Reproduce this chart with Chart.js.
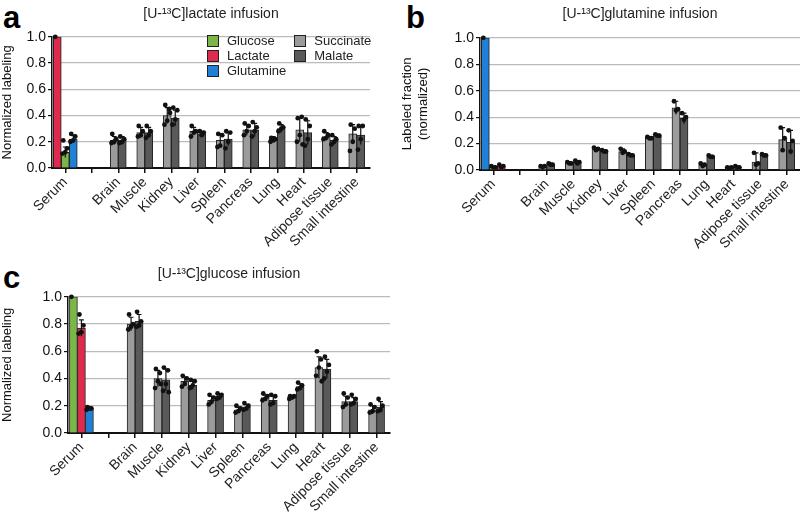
<!DOCTYPE html>
<html>
<head>
<meta charset="utf-8">
<script src="https://cdn.jsdelivr.net/npm/chart.js@4.4.1/dist/chart.umd.min.js"></script>
<style>
  body { margin: 0; background: #fff; width: 800px; height: 520px; position: relative; overflow: hidden;
         font-family: "Liberation Sans", Arial, sans-serif; }
  canvas { position: absolute; }
  .tag { position: absolute; font-weight: bold; font-size: 31px; line-height: 1; color: #000; }
  #legend { position: absolute; left: 207px; top: 33px; font-size: 13px; color: #222; z-index: 2;
            display: grid; grid-auto-flow: column; grid-template-rows: repeat(3, 15px); column-gap: 8px; }
  #legend div { display: flex; align-items: center; white-space: nowrap; }
  #legend span { display: inline-block; width: 10px; height: 10px; border: 1px solid #222; margin-right: 8px; }
</style>
</head>
<body>
<div class="tag" style="left:3px;top:2px">a</div>
<div class="tag" style="left:406px;top:2px">b</div>
<div class="tag" style="left:3px;top:262px">c</div>
<canvas id="chartA" width="385" height="260" style="left:0;top:0"></canvas>
<canvas id="chartB" width="400" height="260" style="left:400px;top:0"></canvas>
<canvas id="chartC" width="400" height="260" style="left:0;top:260px"></canvas>
<div id="legend"></div>
<script>
// categories (the empty one is the spacer tick between serum and tissues)
var tissues = ['Serum', '', 'Brain', 'Muscle', 'Kidney', 'Liver', 'Spleen', 'Pancreas', 'Lung', 'Heart', 'Adipose tissue', 'Small intestine'];
var serumNames = ['Glucose', 'Lactate', 'Glutamine'];
var serumColors = ['#7ab648', '#df2a4e', '#1f80d6'];
var tissueNames = ['Succinate', 'Malate'];
var tissueColors = ['#9b9b9b', '#595959'];
var yTicks = [0, 0.2, 0.4, 0.6, 0.8, 1.0];

// a: [U-13C]lactate infusion  (serum: glucose, lactate, glutamine)
var aSerumMean = [0.12, 1.0, 0.22];
var aSerumSd = [0.04, 0, 0.03];
var aSerumPts = [[0.21, 0.15, 0.12, 0.11], [1.0], [0.26, 0.24, 0.21, 0.20]];
var aSuccMean = [0.21, 0.27, 0.40, 0.28, 0.21, 0.29, 0.22, 0.29, 0.24, 0.26];
var aSuccSd = [0.03, 0.04, 0.06, 0.03, 0.05, 0.04, 0.02, 0.09, 0.03, 0.07];
var aSuccPts = [[0.26, 0.22, 0.20, 0.19], [0.32, 0.28, 0.25, 0.24], [0.48, 0.45, 0.36, 0.33, 0.42], [0.32, 0.28, 0.27, 0.24],
  [0.26, 0.25, 0.17, 0.16], [0.34, 0.32, 0.28, 0.25], [0.23, 0.22, 0.21, 0.20], [0.38, 0.39, 0.25, 0.20, 0.18],
  [0.28, 0.25, 0.23, 0.22], [0.33, 0.30, 0.20, 0.13]];
var aMalMean = [0.21, 0.27, 0.38, 0.26, 0.22, 0.29, 0.30, 0.27, 0.21, 0.25];
var aMalSd = [0.03, 0.04, 0.06, 0.02, 0.05, 0.05, 0.03, 0.09, 0.03, 0.07];
var aMalPts = [[0.24, 0.22, 0.20, 0.19], [0.32, 0.28, 0.25, 0.23], [0.46, 0.44, 0.37, 0.33], [0.28, 0.27, 0.25],
  [0.28, 0.27, 0.20, 0.15], [0.35, 0.31, 0.28, 0.24], [0.34, 0.31, 0.30, 0.28], [0.37, 0.32, 0.22, 0.17],
  [0.25, 0.22, 0.20, 0.18], [0.32, 0.32, 0.22, 0.14]];

// b: [U-13C]glutamine infusion
var bSerumMean = [0.02, 0.03, 1.0];
var bSerumSd = [0.005, 0.005, 0];
var bSerumPts = [[0.03, 0.02, 0.02], [0.04, 0.03, 0.02], [1.0]];
var bSuccMean = [0.03, 0.05, 0.16, 0.14, 0.245, 0.47, 0.04, 0.02, 0.06, 0.23];
var bSuccSd = [0.005, 0.01, 0.01, 0.02, 0.005, 0.05, 0.01, 0.005, 0.07, 0.09];
var bSuccPts = [[0.03, 0.03, 0.02], [0.06, 0.05, 0.05], [0.17, 0.16, 0.15], [0.16, 0.14, 0.13], [0.25, 0.24, 0.24],
  [0.52, 0.46, 0.45], [0.05, 0.04, 0.03], [0.02, 0.02, 0.01], [0.13, 0.05, 0.04], [0.32, 0.24, 0.15]];
var bMalMean = [0.04, 0.06, 0.14, 0.11, 0.26, 0.39, 0.10, 0.02, 0.11, 0.21];
var bMalSd = [0.01, 0.01, 0.01, 0.01, 0.01, 0.04, 0.01, 0.005, 0.01, 0.09];
var bMalPts = [[0.05, 0.04, 0.04], [0.07, 0.06, 0.05], [0.15, 0.14, 0.14], [0.12, 0.11, 0.11], [0.27, 0.26, 0.26],
  [0.43, 0.40, 0.38], [0.11, 0.10, 0.10], [0.03, 0.02, 0.02], [0.12, 0.11, 0.11], [0.30, 0.22, 0.14]];

// c: [U-13C]glucose infusion
var cSerumMean = [1.0, 0.77, 0.18];
var cSerumSd = [0, 0.06, 0.01];
var cSerumPts = [[1.0], [0.87, 0.79, 0.74, 0.73], [0.19, 0.18, 0.18, 0.17]];
var cSuccMean = [0.80, 0.40, 0.38, 0.24, 0.17, 0.26, 0.26, 0.48, 0.23, 0.17];
var cSuccSd = [0.05, 0.06, 0.03, 0.03, 0.02, 0.02, 0.01, 0.08, 0.04, 0.03];
var cSuccPts = [[0.87, 0.80, 0.78, 0.76], [0.47, 0.44, 0.38, 0.33, 0.36], [0.42, 0.40, 0.36, 0.34], [0.28, 0.26, 0.23, 0.21],
  [0.20, 0.18, 0.16, 0.15], [0.29, 0.27, 0.25, 0.24], [0.27, 0.27, 0.26, 0.25], [0.60, 0.54, 0.48, 0.42, 0.38],
  [0.29, 0.26, 0.21, 0.19], [0.21, 0.19, 0.16, 0.15]];
var cMalMean = [0.82, 0.39, 0.35, 0.27, 0.19, 0.24, 0.34, 0.47, 0.23, 0.19];
var cMalSd = [0.05, 0.08, 0.03, 0.02, 0.02, 0.03, 0.02, 0.07, 0.03, 0.04];
var cMalPts = [[0.89, 0.82, 0.79, 0.78], [0.48, 0.46, 0.36, 0.31, 0.30], [0.39, 0.38, 0.35, 0.33], [0.29, 0.28, 0.26, 0.25],
  [0.22, 0.20, 0.18, 0.17], [0.28, 0.27, 0.22, 0.21], [0.37, 0.35, 0.33, 0.32], [0.56, 0.50, 0.45, 0.40],
  [0.28, 0.25, 0.22, 0.21], [0.25, 0.20, 0.17, 0.16]];

Chart.defaults.font.family = '"Liberation Sans", Arial, sans-serif';

// horizontal spread of the replicate dots, as a fraction of bar width
var jitter = [-0.25, 0.25, 0, -0.35, 0.35];

var errorDots = {
  id: 'errorDots',
  afterDatasetsDraw: function(chart) {
    var ctx = chart.ctx, y = chart.scales.y;
    chart.data.datasets.forEach(function(ds, di) {
      var meta = chart.getDatasetMeta(di);
      meta.data.forEach(function(bar, i) {
        var m = ds.data[i];
        if (m == null) return;
        var sd = ds.sd[i] || 0, w = bar.width;
        ctx.save();
        ctx.strokeStyle = '#111';
        ctx.fillStyle = '#111';
        ctx.lineWidth = 1.2;
        if (sd > 0) {
          var top = y.getPixelForValue(m + sd), bot = y.getPixelForValue(Math.max(0, m - sd));
          ctx.beginPath();
          ctx.moveTo(bar.x, top); ctx.lineTo(bar.x, bot);
          ctx.moveTo(bar.x - w * 0.3, top); ctx.lineTo(bar.x + w * 0.3, top);
          ctx.stroke();
        }
        (ds.pts[i] || []).forEach(function(v, j) {
          ctx.beginPath();
          ctx.arc(bar.x + jitter[j % jitter.length] * w, y.getPixelForValue(v), 2.4, 0, Math.PI * 2);
          ctx.fill();
        });
        ctx.restore();
      });
    });
  }
};

function serumSet(k, mean, sd, pts) {
  return {
    label: serumNames[k], backgroundColor: serumColors[k],
    data: tissues.map(function(t, i) { return i === 0 ? mean[k] : null; }),
    sd: tissues.map(function(t, i) { return i === 0 ? sd[k] : null; }),
    pts: tissues.map(function(t, i) { return i === 0 ? pts[k] : null; })
  };
}
function tissueSet(k, mean, sd, pts) {
  return {
    label: tissueNames[k], backgroundColor: tissueColors[k],
    data: tissues.map(function(t, i) { return i < 2 ? null : mean[i - 2]; }),
    sd: tissues.map(function(t, i) { return i < 2 ? null : sd[i - 2]; }),
    pts: tissues.map(function(t, i) { return i < 2 ? null : pts[i - 2]; })
  };
}

function makeChart(id, p) {
  var datasets = p.order.map(function(k) { return serumSet(k, p.serumMean, p.serumSd, p.serumPts); });
  datasets.push(tissueSet(0, p.succMean, p.succSd, p.succPts));
  datasets.push(tissueSet(1, p.malMean, p.malSd, p.malPts));
  return new Chart(document.getElementById(id), {
    type: 'bar',
    data: { labels: tissues, datasets: datasets },
    plugins: [errorDots],
    options: {
      responsive: false,
      animation: false,
      devicePixelRatio: 1,
      layout: { padding: { left: 0, right: p.padRight, top: 0, bottom: 0 } },
      datasets: { bar: { skipNull: true, barThickness: 8, borderWidth: 1, borderColor: '#222' } },
      plugins: {
        legend: { display: false },
        tooltip: { enabled: false },
        title: { display: true, text: p.title, fullSize: false, color: '#222', font: { size: 14, weight: 'normal' },
                 padding: { top: 6, bottom: p.titleGap } }
      },
      scales: {
        x: {
          grid: { display: true, drawOnChartArea: false, offset: false, tickLength: 5, color: '#111', lineWidth: 1.5 },
          border: { color: '#111', width: 2 },
          ticks: { autoSkip: false, maxRotation: 45, minRotation: 45, color: '#222', font: { size: 14 }, padding: 1 },
          afterFit: function(s) { s.height = p.xh; }
        },
        y: {
          min: 0, max: 1,
          afterBuildTicks: function(s) { s.ticks = yTicks.map(function(v) { return { value: v }; }); },
          grid: { color: '#bbb', lineWidth: 1.2, tickLength: 4, tickColor: '#111' },
          border: { color: '#111', width: 1.5 },
          ticks: { color: '#111', font: { size: 14 }, padding: 2, callback: function(v) { return v.toFixed(1); } },
          title: { display: true, text: p.yTitle, color: '#111', font: { size: 13 }, padding: 0 },
          afterFit: function(s) { s.width = p.yw; }
        }
      }
    }
  });
}

makeChart('chartA', {
  title: '[U-\u00b9\u00b3C]lactate infusion', yTitle: 'Normalized labeling', order: [1, 0, 2],
  serumMean: aSerumMean, serumSd: aSerumSd, serumPts: aSerumPts,
  succMean: aSuccMean, succSd: aSuccSd, succPts: aSuccPts, malMean: aMalMean, malSd: aMalSd, malPts: aMalPts,
  padRight: 15, yw: 52, xh: 92, titleGap: 14
});
makeChart('chartB', {
  title: '[U-\u00b9\u00b3C]glutamine infusion', yTitle: ['Labeled fraction', '(normalized)'], order: [2, 0, 1],
  serumMean: bSerumMean, serumSd: bSerumSd, serumPts: bSerumPts,
  succMean: bSuccMean, succSd: bSuccSd, succPts: bSuccPts, malMean: bMalMean, malSd: bMalSd, malPts: bMalPts,
  padRight: 0, yw: 80, xh: 90, titleGap: 15
});
makeChart('chartC', {
  title: '[U-\u00b9\u00b3C]glucose infusion', yTitle: 'Normalized labeling', order: [0, 1, 2],
  serumMean: cSerumMean, serumSd: cSerumSd, serumPts: cSerumPts,
  succMean: cSuccMean, succSd: cSuccSd, succPts: cSuccPts, malMean: cMalMean, malSd: cMalSd, malPts: cMalPts,
  padRight: 10, yw: 68, xh: 87, titleGap: 14
});

// legend of panel a: serum tracers in the first column, TCA metabolites in the second
var legend = document.getElementById('legend');
serumNames.concat(tissueNames).forEach(function(name, i) {
  var color = i < 3 ? serumColors[i] : tissueColors[i - 3];
  var item = document.createElement('div');
  item.innerHTML = '<span style="background:' + color + '"></span>' + name;
  legend.appendChild(item);
});
</script>
</body>
</html>
